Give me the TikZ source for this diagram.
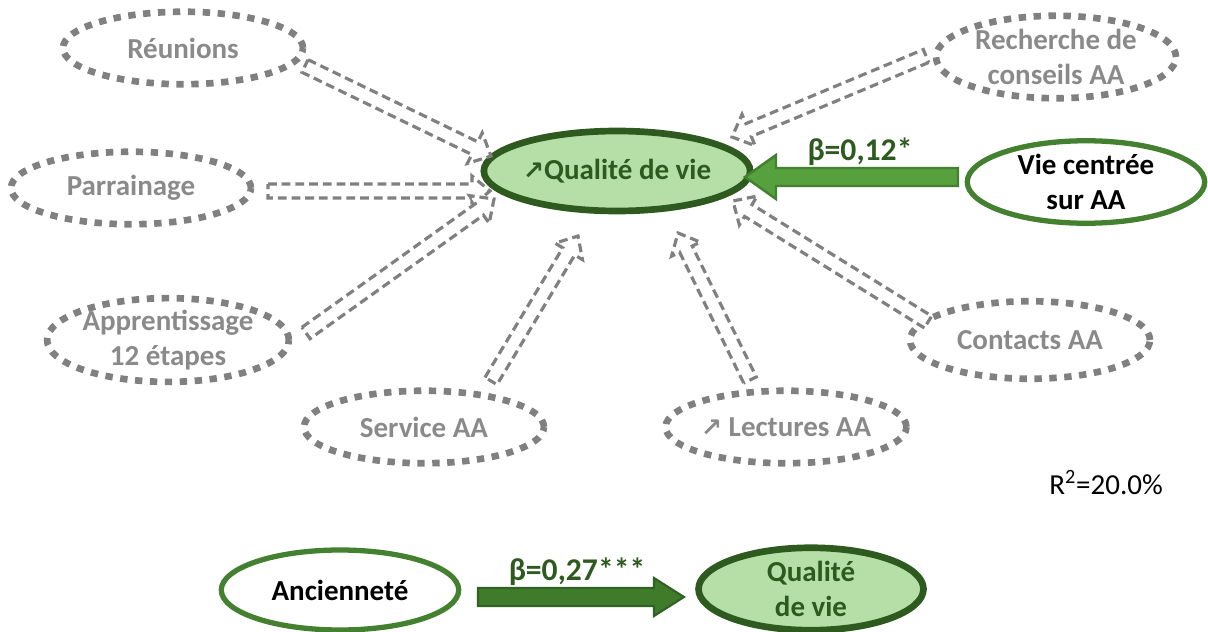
\documentclass[tikz,border=0pt]{standalone}
\usepackage{fontspec}
\setmainfont{Carlito}
\newfontfamily\symfont{DejaVu Sans}
\usetikzlibrary{shapes.geometric,calc}
\definecolor{grayc}{HTML}{808080}
\definecolor{graytxt}{HTML}{8A8A8A}
\definecolor{dkgreen}{HTML}{2E5A20}
\definecolor{midgreen}{HTML}{43802F}
\definecolor{ligreen}{HTML}{B5DFA6}
\definecolor{arrgreen}{HTML}{56A03D}
\definecolor{botgreen}{HTML}{3F7B2B}
\newcommand\blockarr[6]{%
  \coordinate (ba-h) at ($(#3)!#6!(#2)$);
  \draw[#1] ($(#2)!#4!90:(#3)$) -- ($(ba-h)!#4!90:(#3)$) -- ($(ba-h)!#5!90:(#3)$) -- (#3)
    -- ($(ba-h)!#5!-90:(#3)$) -- ($(ba-h)!#4!-90:(#3)$) -- ($(#2)!#4!-90:(#3)$) -- cycle;}
\newcommand\nearr{{\symfont\fontsize{14.5}{14.5}\selectfont ↗}}
\tikzset{
  lbl/.style={font=\bfseries\fontsize{16.5}{19.5}\selectfont, align=center},
  dotell/.style={ellipse, draw=grayc, line width=3.8pt, dash pattern=on 4.2pt off 4.3pt,
    text=graytxt, lbl, inner sep=0pt, minimum width=4.8cm, minimum height=1.45cm},
  hollow/.style={draw=grayc, line width=1.8pt, dash pattern=on 5pt off 2.8pt, fill=white, line join=miter},
  qell/.style={ellipse, draw=dkgreen, line width=3.8pt, fill=ligreen, text=dkgreen, lbl,
    inner sep=0pt, minimum width=4.85cm, minimum height=1.6cm},
  wgell/.style={ellipse, draw=midgreen, line width=3pt, fill=white, text=black, lbl,
    inner sep=0pt, minimum width=4.75cm, minimum height=1.65cm},
  beta/.style={text=dkgreen, font=\bfseries\fontsize{18}{20}\selectfont}
}
\begin{document}
\begin{tikzpicture}[x=0.02cm, y=-0.02cm]
\useasboundingbox (0,0) rectangle (1208,632);
% nodes
\node[qell] (q) at (617,171) {\nearr Qualité de vie};
\node[dotell] (reu) at (183,48) {Réunions};
\node[dotell, minimum height=1.65cm] (rech) at (1056,57) {Recherche de\\conseils AA};
\node[dotell] (par) at (131,188) {Parrainage};
\node[wgell] (vie) at (1086,182) {Vie centrée\\sur AA};
\node[dotell, minimum height=1.6cm] (app) at (168,340) {Apprentissage\\12 étapes};
\node[dotell, minimum height=1.55cm] (con) at (1030,340) {Contacts AA};
\node[dotell] (ser) at (424,427) {Service AA};
\node[dotell] (lec) at (786,427) {\nearr{} Lectures AA};
\node[font=\fontsize{16.5}{19}\selectfont] (r2) at (1106,483) {R\textsuperscript{2}=20.0\%};
\node[wgell, minimum height=1.6cm] (anc) at (340,590) {Ancienneté};
\node[qell, minimum width=4.5cm, minimum height=1.65cm] (q2) at (811,589) {Qualité\\de vie};
% hollow arrow coordinates
\coordinate (reuS) at (305,66);  \coordinate (reuE) at (491,156);
\coordinate (parS) at (268,191); \coordinate (parE) at (490,191);
\coordinate (appS) at (306,333); \coordinate (appE) at (494,199);
\coordinate (serS) at (491,381); \coordinate (serE) at (578,236);
\coordinate (lecS) at (750,380); \coordinate (lecE) at (678,233);
\coordinate (conS) at (928,322); \coordinate (conE) at (733,201);
\coordinate (rechS) at (926,56); \coordinate (rechE) at (732,137);
\blockarr{hollow}{reuS}{reuE}{0.14cm}{0.34cm}{0.36cm}
\blockarr{hollow}{parS}{parE}{0.14cm}{0.30cm}{0.36cm}
\blockarr{hollow}{appS}{appE}{0.14cm}{0.34cm}{0.36cm}
\blockarr{hollow}{serS}{serE}{0.14cm}{0.32cm}{0.36cm}
\blockarr{hollow}{lecS}{lecE}{0.14cm}{0.32cm}{0.36cm}
\blockarr{hollow}{conS}{conE}{0.14cm}{0.34cm}{0.36cm}
\blockarr{hollow}{rechS}{rechE}{0.14cm}{0.34cm}{0.36cm}
% solid green arrows
\coordinate (vieS) at (958,177); \coordinate (vieE) at (745,177);
\blockarr{draw=midgreen, line width=1.4pt, fill=arrgreen}{vieS}{vieE}{0.18cm}{0.44cm}{0.62cm}
\node[beta] (b1) at (860,152) {β=0,12*};
\coordinate (ancS) at (478,597); \coordinate (ancE) at (684,597);
\blockarr{draw=dkgreen!80!midgreen, line width=1.2pt, fill=botgreen}{ancS}{ancE}{0.18cm}{0.38cm}{0.6cm}
\node[beta] (b2) at (577,572) {β=0,27***};
\end{tikzpicture}
\end{document}
